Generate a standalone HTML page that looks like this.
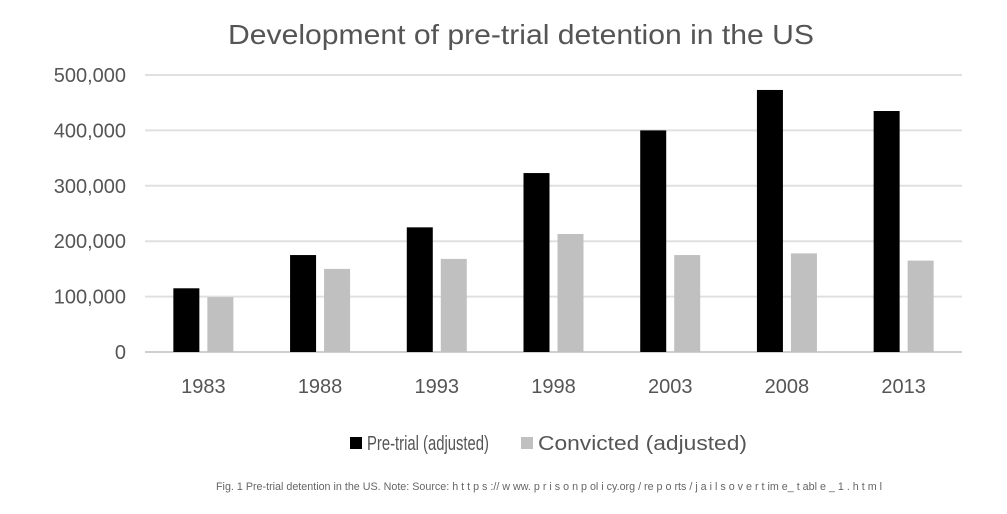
<!DOCTYPE html>
<html><head><meta charset="utf-8"><style>
body{margin:0;background:#fff;width:1007px;height:509px;overflow:hidden;font-family:"Liberation Sans",sans-serif}
svg text{font-family:"Liberation Sans",sans-serif}
</style></head><body>
<svg id="chart" width="1007" height="509" viewBox="0 0 1007 509">
<text x="521" y="44" text-anchor="middle" font-size="28" fill="#555" textLength="586" lengthAdjust="spacingAndGlyphs">Development of pre-trial detention in the US</text>
<g id="grid"></g><g id="bars"></g><g id="xlabels"></g>
<g>
<rect x="350" y="437" width="12" height="12" fill="#000"/>
<text x="367" y="450" font-size="20" fill="#555" textLength="122" lengthAdjust="spacingAndGlyphs">Pre-trial (adjusted)</text>
<rect x="521" y="437" width="12" height="12" fill="#c0c0c0"/>
<text x="538" y="450" font-size="20" fill="#555" textLength="209" lengthAdjust="spacingAndGlyphs">Convicted (adjusted)</text>
</g>
<text x="216" y="490" font-size="11" fill="#666" textLength="666" lengthAdjust="spacingAndGlyphs">Fig. 1 Pre-trial detention in the US. Note: Source: h t t p s :// w ww. p r i s o n p ol i cy.org / re p o rts / j a i l s o v e r t im e_ t abl e _ 1 . h t m l</text>
</svg>
<script>
const categories=["1983","1988","1993","1998","2003","2008","2013"];
const pretrial=[115000,175000,225000,323000,400000,473000,435000];
const convicted=[99000,150000,168000,213000,175000,178000,165000];
const yTicks=[0,100000,200000,300000,400000,500000];
const yTickLabels=["0","100,000","200,000","300,000","400,000","500,000"];
const NS="http://www.w3.org/2000/svg";
const left=145,right=962,y0=352,y1=75,yMax=500000;
const y=v=>y0-(v/yMax)*(y0-y1);
const band=(right-left)/categories.length;
const xc=i=>left+band*(i+0.5);
function mk(t,a,p){const e=document.createElementNS(NS,t);for(const k in a)e.setAttribute(k,a[k]);p.appendChild(e);return e;}
const grid=document.getElementById('grid'),bars=document.getElementById('bars'),xl=document.getElementById('xlabels');
yTicks.forEach((v,i)=>{
 const l=mk('line',{x1:left,x2:right,y1:y(v),y2:y(v),stroke:i===0?'#cfcfcf':'#e0e0e0','stroke-width':2},grid);
 
 
 const t=mk('text',{x:126,y:y(v)+7,'text-anchor':'end','font-size':20,fill:'#555'},grid);
 t.textContent=yTickLabels[i];
 
 
});
const bw=26;
categories.forEach((c,i)=>{
 const b1=mk('rect',{x:xc(i)-bw-4,y:y(pretrial[i]),width:bw,height:y0-y(pretrial[i]),fill:'#000'},bars);
 
 
 const b2=mk('rect',{x:xc(i)+4,y:y(convicted[i]),width:bw,height:y0-y(convicted[i]),fill:'#c0c0c0'},bars);
 
 
 const t=mk('text',{x:xc(i),y:393,'text-anchor':'middle','font-size':20,fill:'#555'},xl);
 t.textContent=c;
 
 
});
</script>
</body></html>
